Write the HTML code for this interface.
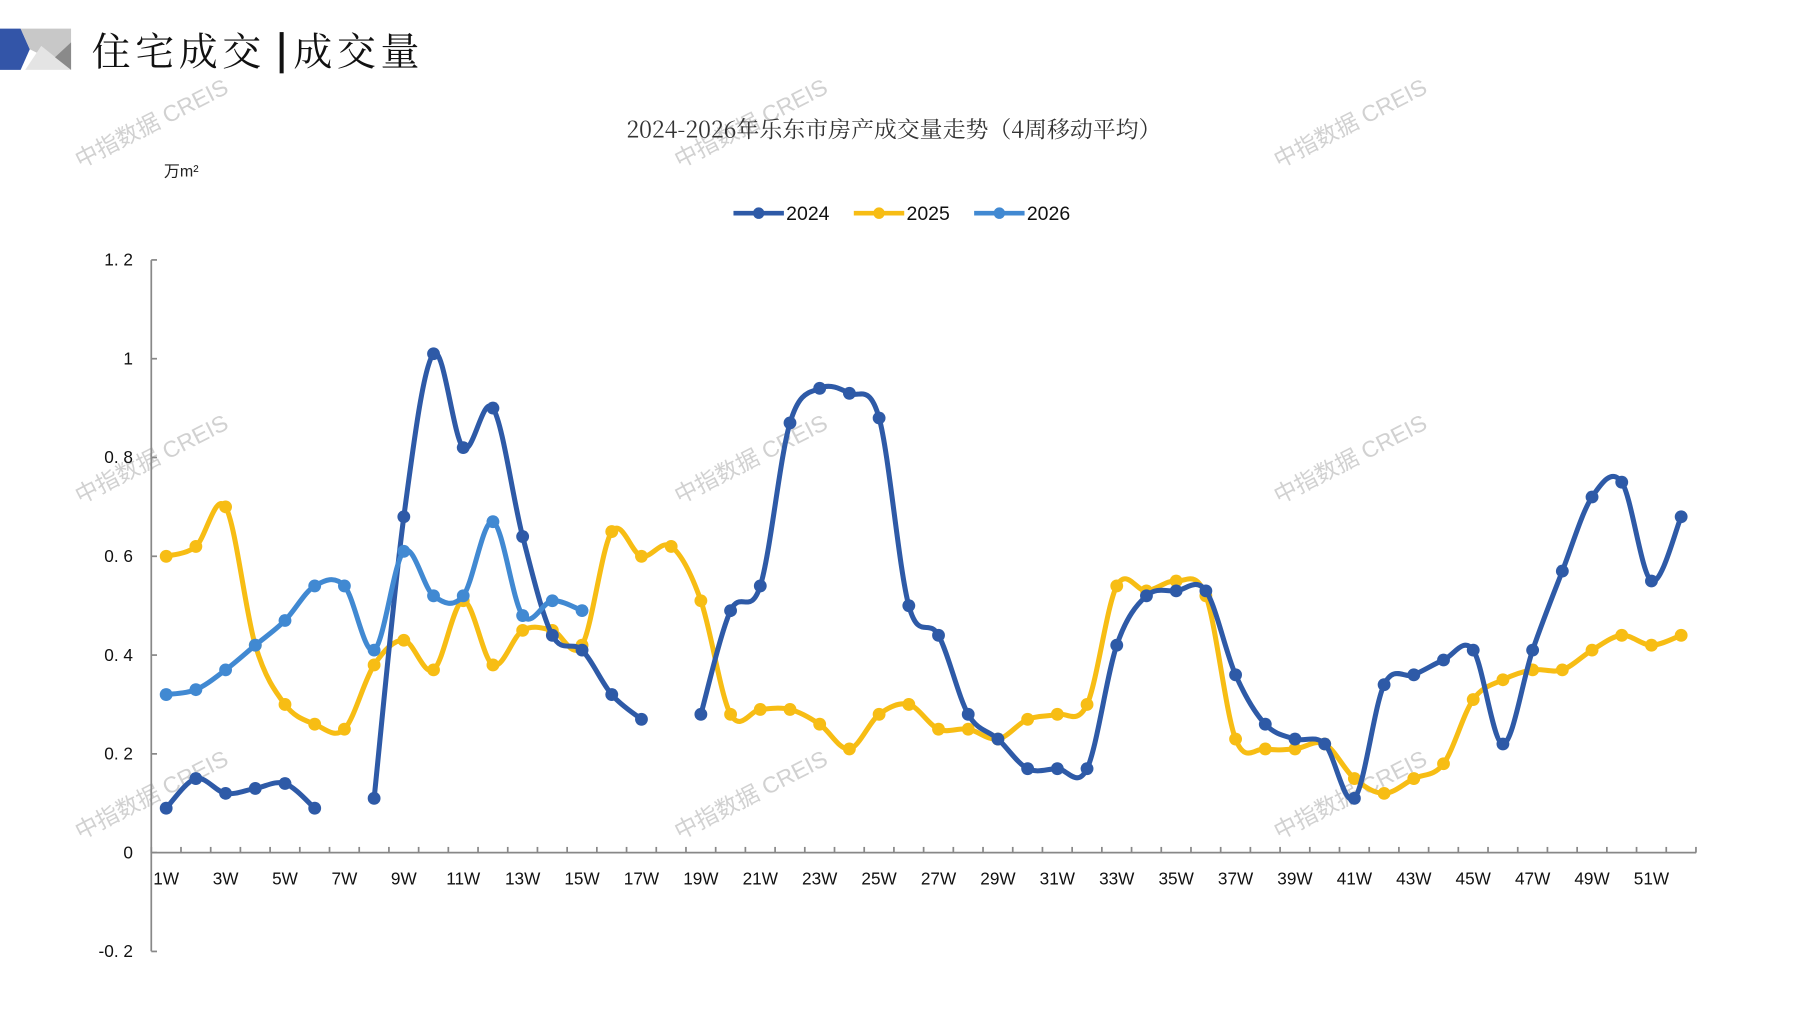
<!DOCTYPE html>
<html><head><meta charset="utf-8">
<style>
html,body{margin:0;padding:0;background:#fff;width:1797px;height:1010px;overflow:hidden}
svg{display:block}
text{font-family:"Liberation Sans","Noto Sans CJK SC",sans-serif}
</style></head>
<body>
<svg id="s" width="1797" height="1010" viewBox="0 0 1568 881.3" preserveAspectRatio="none" xmlns="http://www.w3.org/2000/svg">
<rect width="1568" height="882" fill="#fff"/>
<polygon points="0,25 18,25 26,43 18,61 0,61" fill="#3355a8"/>
<polygon points="18,25 62,25 62,61 26,43" fill="#c8c8c8"/>
<polygon points="22,61 36,40 62,61" fill="#e4e4e4"/>
<polygon points="62,37 62,61 48,50" fill="#8a8a8a"/>
<text x="80" y="57" font-size="34" style="font-family:'Noto Serif CJK SC','Liberation Serif',serif" fill="#111" letter-spacing="4">住宅成交</text>
<rect x="244" y="28" width="3.5" height="36" fill="#111"/>
<text x="256" y="57" font-size="34" style="font-family:'Noto Serif CJK SC','Liberation Serif',serif" fill="#111" letter-spacing="4">成交量</text>
<g fill="#c9c9c9" font-size="20" opacity="0.85">
<text transform="translate(70,147) rotate(-27)">中指数据 CREIS</text>
<text transform="translate(593,147) rotate(-27)">中指数据 CREIS</text>
<text transform="translate(1116,147) rotate(-27)">中指数据 CREIS</text>
<text transform="translate(70,440) rotate(-27)">中指数据 CREIS</text>
<text transform="translate(593,440) rotate(-27)">中指数据 CREIS</text>
<text transform="translate(1116,440) rotate(-27)">中指数据 CREIS</text>
<text transform="translate(70,733) rotate(-27)">中指数据 CREIS</text>
<text transform="translate(593,733) rotate(-27)">中指数据 CREIS</text>
<text transform="translate(1116,733) rotate(-27)">中指数据 CREIS</text>
</g>
<text x="780" y="120" font-size="20" text-anchor="middle" fill="#333" style="font-family:'Noto Serif CJK SC','Liberation Serif',serif">2024-2026年乐东市房产成交量走势（4周移动平均）</text>
<text x="143" y="154" font-size="14" fill="#222">万m²</text>
<g>
<line x1="640" y1="186" x2="684" y2="186" stroke="#2e5aa7" stroke-width="4"/><circle cx="662" cy="186" r="5" fill="#2e5aa7"/>
<text x="686" y="192" font-size="17" fill="#111">2024</text>
<line x1="745" y1="186" x2="789" y2="186" stroke="#f7bd14" stroke-width="4"/><circle cx="767" cy="186" r="5" fill="#f7bd14"/>
<text x="791" y="192" font-size="17" fill="#111">2025</text>
<line x1="850" y1="186" x2="894" y2="186" stroke="#4189d2" stroke-width="4"/><circle cx="872" cy="186" r="5" fill="#4189d2"/>
<text x="896" y="192" font-size="17" fill="#111">2026</text>
</g>
<g id="axes" stroke="#888" stroke-width="1.5" fill="none"></g>
<g id="labels" font-size="15" fill="#111"></g>
<g id="series"></g>
</svg>
<script>
var NS="http://www.w3.org/2000/svg";
function el(t,a,p){var e=document.createElementNS(NS,t);for(var k in a)e.setAttribute(k,a[k]);p.appendChild(e);return e;}
var X=function(w){return 145+(w-1)*25.92;};
var Y=function(v){return 744-v*431;};
var ax=document.getElementById('axes'),lb=document.getElementById('labels'),sr=document.getElementById('series');
el('line',{x1:132,y1:227,x2:132,y2:830},ax);
el('line',{x1:132,y1:744,x2:1480,y2:744},ax);
[1.2,1,0.8,0.6,0.4,0.2,0,-0.2].forEach(function(v){
 el('line',{x1:132,y1:Y(v),x2:137,y2:Y(v)},ax);
 var t=el('text',{x:116,y:Y(v)+5,'text-anchor':'end'},lb);
 t.textContent=(v===1.2?'1. 2':v===-0.2?'-0. 2':v===0.8?'0. 8':v===0.6?'0. 6':v===0.4?'0. 4':v===0.2?'0. 2':String(v));
});
for(var i=0;i<=52;i++){var x=132+i*25.92;el('line',{x1:x,y1:744,x2:x,y2:739},ax);}
for(var w=1;w<=51;w+=2){var t=el('text',{x:X(w),y:772,'text-anchor':'middle'},lb);t.textContent=w+'W';}
var d24=[0.09,0.15,0.12,0.13,0.14,0.09,null,0.11,0.68,1.01,0.82,0.90,0.64,0.44,0.41,0.32,0.27,null,0.28,0.49,0.54,0.87,0.94,0.93,0.88,0.50,0.44,0.28,0.23,0.17,0.17,0.17,0.42,0.52,0.53,0.53,0.36,0.26,0.23,0.22,0.11,0.34,0.36,0.39,0.41,0.22,0.41,0.57,0.72,0.75,0.55,0.68];
var d25=[0.60,0.62,0.70,0.42,0.30,0.26,0.25,0.38,0.43,0.37,0.51,0.38,0.45,0.45,0.42,0.65,0.60,0.62,0.51,0.28,0.29,0.29,0.26,0.21,0.28,0.30,0.25,0.25,0.23,0.27,0.28,0.30,0.54,0.53,0.55,0.52,0.23,0.21,0.21,0.22,0.15,0.12,0.15,0.18,0.31,0.35,0.37,0.37,0.41,0.44,0.42,0.44];
var d26=[0.32,0.33,0.37,0.42,0.47,0.54,0.54,0.41,0.61,0.52,0.52,0.67,0.48,0.51,0.49];
function draw(d,c){
 var segs=[],cur=[];
 d.forEach(function(v,i){if(v===null){if(cur.length)segs.push(cur);cur=[];}else cur.push([X(i+1),Y(v)]);});
 if(cur.length)segs.push(cur);
 segs.forEach(function(p){
  var s='M'+p[0][0]+','+p[0][1];
  for(var i=0;i<p.length-1;i++){
   var p0=p[i-1]||p[i],p1=p[i],p2=p[i+1],p3=p[i+2]||p2,k=6;
   s+=' C'+(p1[0]+(p2[0]-p0[0])/k)+','+(p1[1]+(p2[1]-p0[1])/k)+' '+(p2[0]-(p3[0]-p1[0])/k)+','+(p2[1]-(p3[1]-p1[1])/k)+' '+p2[0]+','+p2[1];
  }
  el('path',{d:s,fill:'none',stroke:c,'stroke-width':4.4,'stroke-linejoin':'round','stroke-linecap':'round'},sr);
  p.forEach(function(q){el('circle',{cx:q[0],cy:q[1],r:5.6,fill:c},sr);});
 });
}
draw(d25,'#f7bd14');
draw(d24,'#2e5aa7');
draw(d26,'#4189d2');
</script>
</body></html>
